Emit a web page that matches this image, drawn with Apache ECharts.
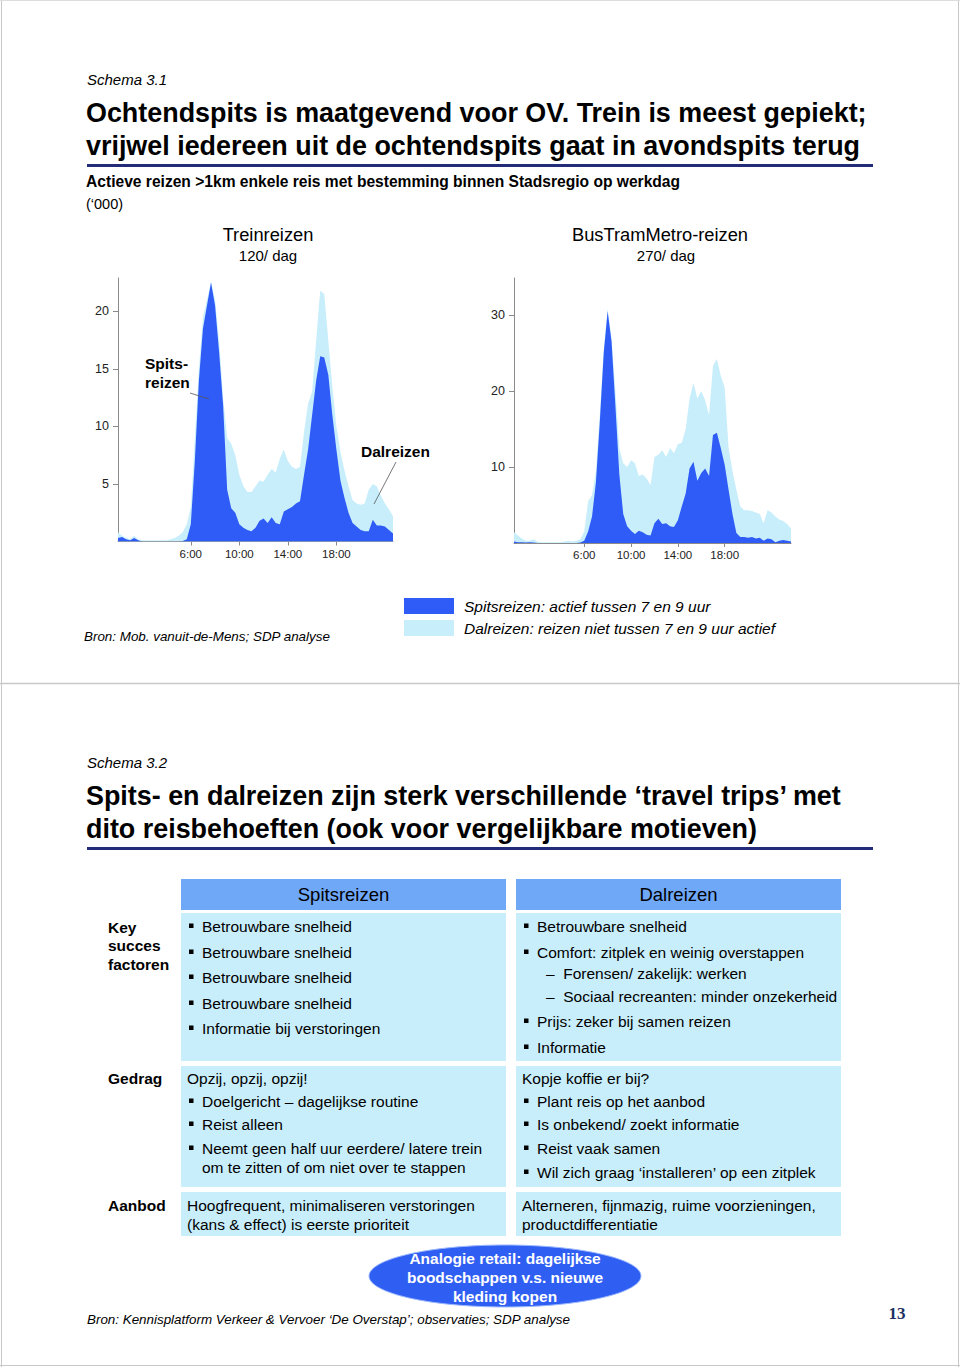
<!DOCTYPE html>
<html>
<head>
<meta charset="utf-8">
<script src="https://cdn.jsdelivr.net/npm/echarts@6/dist/echarts.min.js"></script>
<style>
html,body{margin:0;padding:0;background:#fff;}
#c{width:960px;height:1367px;}
</style>
</head>
<body>
<div id="c"></div>
<script>
// ---------- DATA ----------
const tijden = ['0:00','0:20','0:40','1:00','1:20','1:40','2:00','2:20','2:40','3:00','3:20','3:40',
'4:00','4:20','4:40','5:00','5:20','5:40','6:00','6:20','6:40','7:00','7:20','7:40','8:00','8:20','8:40',
'9:00','9:20','9:40','10:00','10:20','10:40','11:00','11:20','11:40','12:00','12:20','12:40','13:00','13:20','13:40',
'14:00','14:20','14:40','15:00','15:20','15:40','16:00','16:20','16:40','17:00','17:20','17:40','18:00','18:20','18:40',
'19:00','19:20','19:40','20:00','20:20','20:40','21:00','21:20','21:40','22:00','22:20','22:40','23:00','23:20','23:40'];
const tijdTicks = ['6:00','10:00','14:00','18:00'];

// Treinreizen ('000), 0:00 - 22:40
const treinTotaal = [0.8,0.5,0.3,0.2,0.5,0.2,0.1,0.1,0.1,0.1,0.1,0.1,0.1,0.2,0.3,0.5,0.8,1.5,
 3.0,9,15, 19.5,21,22.6, 21,17.5,12.5, 9.0,8.5,7.5, 5.8,4.8,4.3, 4.3,4.8,5.3, 5.2,5.8,6.3, 6.0,7.2,8.0,
 7.0,6.5,6.3, 6.5,9.5,12.0, 13.0,17.5,21.8, 21.5,17.5,13.5, 10.0,7.8,6.2, 4.8,3.6,3.3, 3.2,3.3,4.5,
 5.0,4.8,4.0, 3.3,2.8,2.2];
const treinSpits = [0.3,0.4,0.2,0.1,0.3,0.1,0,0,0,0,0,0,0,0,0,0,0.05,0.2,
 1.5,7,14, 18.5,20.5,22.5, 20.5,16.5,11.8, 4.5,2.9,2.5, 1.5,1.2,1.0, 0.9,1.2,1.8, 2.0,1.6,2.1, 1.6,1.5,2.6,
 2.8,3.0,3.3, 3.5,5.8,8.0, 11.0,14.0,16.1, 16.0,14.5,11.0, 8.0,5.3,3.8, 2.5,1.6,1.3, 1.0,0.9,0.9,
 1.9,1.4,1.4, 1.3,1.0,0.7];

// BusTramMetro-reizen ('000), 0:00 - 23:40
const busTotaal = [1.4,1.0,0.6,0.3,0.3,0.5,0.15,0.1,0.1,0.1,0.1,0.1,0.1,0.2,0.3,0.2,0.3,0.5,
 1.5,5.5,6.3, 9.5,17,25.5, 30.8,27,20, 12.5,10.5,10, 10.9,10.5,8.8, 9.0,8.5,7.6, 11.3,11.6,12.2, 11.3,12.5,11.8,
 13.0,13.2,15.0, 19.0,21.1,19.0, 20.0,18.8,16.8, 23.3,24.2,22.0, 20.5,12.5,9.5, 7.0,4.8,4.3, 4.3,4.2,4.0,
 3.8,2.6,4.3, 4.0,3.5,3.1, 2.9,2.5,1.9];
const busSpits = [0.2,0.1,0.1,0.05,0.1,0.05,0,0,0,0,0,0,0,0,0,0,0,0.05,
 0.3,1.5,3.5, 8,16,25, 30.5,26.5,18, 9,3.8,2.2, 1.6,1.2,1.6, 1.4,1.1,1.0, 2.6,3.2,2.5, 2.6,2.2,2.1,
 3.0,4.8,6.5, 9.8,10.7,8.2, 9.2,9.8,8.8, 14.2,14.5,12.5, 10.3,7.0,3.8, 1.3,0.8,0.8, 0.7,0.8,0.6,
 0.7,0.3,0.6, 0.5,0.1,0.3, 0.4,0.3,0.2];

const treinYTicks = [5,10,15,20];
const busYTicks = [10,20,30];

// ---------- STYLE ----------
const FONT = '"Liberation Sans", Arial, Helvetica, sans-serif';
const DARK = '#2f5cf6';
const LIGHT = '#c8eefb';
const NAVY = '#232c78';
const HEAD = '#70a8f8';
const CELL = '#c9eefb';
const SPITS = 'Spitsreizen: actief tussen 7 en 9 uur';
const DAL = 'Dalreizen: reizen niet tussen 7 en 9 uur actief';

function txt(text, x, y, size, o) {
  o = o || {};
  return {type:'text', x:x, y:y, z:100, silent:true, style:{
    text:text, fill:o.color||'#000', fontSize:size,
    fontWeight:o.bold?'bold':'normal', fontStyle:o.italic?'italic':'normal',
    fontFamily:o.family||FONT, textAlign:o.align||'left', textVerticalAlign:'middle'}};
}
function rect(x,y,w,h,fill){return {type:'rect',z:1,silent:true,shape:{x:x,y:y,width:w,height:h},style:{fill:fill}};}
function line(x1,y1,x2,y2,stroke,w){return {type:'line',z:100,silent:true,shape:{x1:x1,y1:y1,x2:x2,y2:y2},style:{stroke:stroke,lineWidth:w}};}
function bullet(x,y){return {type:'rect',z:100,silent:true,shape:{x:x,y:y-2.5,width:4.5,height:4.5},style:{fill:'#000'}};}

const G = [];
// page borders
G.push(line(1.5,0,1.5,1367,'#c8c8c8',1));
G.push(line(958.5,0,958.5,1367,'#c8c8c8',1));
G.push(line(0,683.5,960,683.5,'#c8c8c8',1.5));
G.push(line(0,1365.5,960,1365.5,'#c8c8c8',1));
G.push(line(0,0.5,960,0.5,'#dddddd',1));

// ---- slide 1 ----
G.push(txt('Schema 3.1', 87, 79, 15, {italic:true}));
G.push(txt('Ochtendspits is maatgevend voor OV. Trein is meest gepiekt;', 86, 113, 26.9, {bold:true}));
G.push(txt('vrijwel iedereen uit de ochtendspits gaat in avondspits terug', 86, 146, 26.9, {bold:true}));
G.push(line(87,165.5,873,165.5,NAVY,3));
G.push(txt('Actieve reizen >1km enkele reis met bestemming binnen Stadsregio op werkdag', 86, 181, 15.6, {bold:true}));
G.push(txt('(‘000)', 86, 204, 14.5));
G.push(txt('Treinreizen', 268, 234, 18.3, {align:'center'}));
G.push(txt('120/ dag', 268, 255, 15, {align:'center'}));
G.push(txt('BusTramMetro-reizen', 660, 234, 18.3, {align:'center'}));
G.push(txt('270/ dag', 666, 255, 15, {align:'center'}));
G.push(txt('Spits-', 145, 363, 15.5, {bold:true}));
G.push(txt('reizen', 145, 382, 15.5, {bold:true}));
G.push(line(190,393,209,399,'#555',0.8));
G.push(txt('Dalreizen', 361, 451, 15.5, {bold:true}));
G.push(line(396,462,374,504,'#555',0.8));
G.push(txt('Bron: Mob. vanuit-de-Mens; SDP analyse', 84, 636, 13.4, {italic:true}));

// ---- slide 2 ----
G.push(txt('Schema 3.2', 87, 762, 15, {italic:true}));
G.push(txt('Spits- en dalreizen zijn sterk verschillende ‘travel trips’ met', 86, 796, 26.9, {bold:true}));
G.push(txt('dito reisbehoeften (ook voor vergelijkbare motieven)', 86, 829, 26.9, {bold:true}));
G.push(line(87,848.5,873,848.5,NAVY,3));

const colX = [181, 516], colW = 325;
G.push(rect(colX[0],879,colW,31,HEAD));
G.push(rect(colX[1],879,colW,31,HEAD));
G.push(txt('Spitsreizen', colX[0]+colW/2, 894, 18.5, {align:'center'}));
G.push(txt('Dalreizen', colX[1]+colW/2, 894, 18.5, {align:'center'}));
const rows = [[913,148],[1066,121],[1192,44]];
rows.forEach(function(r){ G.push(rect(colX[0],r[0],colW,r[1],CELL)); G.push(rect(colX[1],r[0],colW,r[1],CELL)); });

G.push(txt('Key', 108, 927, 15.5, {bold:true}));
G.push(txt('succes', 108, 945, 15.5, {bold:true}));
G.push(txt('factoren', 108, 964, 15.5, {bold:true}));
G.push(txt('Gedrag', 108, 1078, 15.5, {bold:true}));
G.push(txt('Aanbod', 108, 1205, 15.5, {bold:true}));

function bl(col, y, t){ const bx = colX[col]+8; G.push(bullet(bx, y)); G.push(txt(t, bx+13, y, 15.5)); }
function sub(col, y, t){ G.push(txt('–  '+t, colX[col]+30, y, 15.5)); }
function plain(col, y, t, dx){ G.push(txt(t, colX[col]+(dx||6), y, 15.5)); }

['Betrouwbare snelheid','Betrouwbare snelheid','Betrouwbare snelheid','Betrouwbare snelheid','Informatie bij verstoringen']
  .forEach(function(t,i){ bl(0, [926,952,977,1003,1028][i], t); });
bl(1, 926, 'Betrouwbare snelheid');
bl(1, 952, 'Comfort: zitplek en weinig overstappen');
sub(1, 973, 'Forensen/ zakelijk: werken');
sub(1, 996, 'Sociaal recreanten: minder onzekerheid');
bl(1, 1021, 'Prijs: zeker bij samen reizen');
bl(1, 1047, 'Informatie');

plain(0, 1078, 'Opzij, opzij, opzij!');
bl(0, 1101, 'Doelgericht – dagelijkse routine');
bl(0, 1124, 'Reist alleen');
bl(0, 1148, 'Neemt geen half uur eerdere/ latere trein');
plain(0, 1167, 'om te zitten of om niet over te stappen', 21);
plain(1, 1078, 'Kopje koffie er bij?');
bl(1, 1101, 'Plant reis op het aanbod');
bl(1, 1124, 'Is onbekend/ zoekt informatie');
bl(1, 1148, 'Reist vaak samen');
bl(1, 1172, 'Wil zich graag ‘installeren’ op een zitplek');

plain(0, 1205, 'Hoogfrequent, minimaliseren verstoringen');
plain(0, 1224, '(kans & effect) is eerste prioriteit');
plain(1, 1205, 'Alterneren, fijnmazig, ruime voorzieningen,');
plain(1, 1224, 'productdifferentiatie');

G.push({type:'ellipse', z:50, silent:true, shape:{cx:505, cy:1276, rx:136, ry:31}, style:{fill:'#2f5ef2', stroke:'#9db8ff', lineWidth:1}});
G.push(txt('Analogie retail: dagelijkse', 505, 1258, 15.5, {bold:true, color:'#fff', align:'center'}));
G.push(txt('boodschappen v.s. nieuwe', 505, 1277, 15.5, {bold:true, color:'#fff', align:'center'}));
G.push(txt('kleding kopen', 505, 1296, 15.5, {bold:true, color:'#fff', align:'center'}));
G.push(txt('Bron: Kennisplatform Verkeer & Vervoer ‘De Overstap’; observaties; SDP analyse', 87, 1319, 13.4, {italic:true}));
G.push(txt('13', 897, 1313, 17, {bold:true, color:'#1d3163', align:'center', family:'"Liberation Serif", "DejaVu Serif", serif'}));

// ---------- CHART ----------
function xAx(gi, n) {
  return {type:'category', gridIndex:gi, data:tijden.slice(0,n), boundaryGap:false,
    axisLine:{lineStyle:{color:'#8a8a8a', width:1}},
    axisTick:{show:true, length:4, lineStyle:{color:'#8a8a8a'}, interval:function(i,v){return tijdTicks.indexOf(v)>=0;}},
    axisLabel:{interval:function(i,v){return tijdTicks.indexOf(v)>=0;}, fontSize:11.5, color:'#222', fontFamily:FONT, margin:6},
    splitLine:{show:false}};
}
function yAx(gi, max, ticks) {
  return {type:'value', gridIndex:gi, min:0, max:max,
    axisLine:{show:true, lineStyle:{color:'#8a8a8a', width:1}},
    axisTick:{show:true, length:5, lineStyle:{color:'#8a8a8a'}, customValues:ticks},
    axisLabel:{customValues:ticks, fontSize:12.5, color:'#222', fontFamily:FONT, margin:9},
    splitLine:{show:false}};
}
function area(name, gi, data, color) {
  return {type:'line', name:name, xAxisIndex:gi, yAxisIndex:gi, data:data, showSymbol:false, symbol:'none',
    lineStyle:{width:0, color:color}, itemStyle:{color:color}, areaStyle:{color:color, opacity:1},
    silent:true, animation:false};
}

const chart = echarts.init(document.getElementById('c'), null, {renderer:'svg', width:960, height:1367});
chart.setOption({
  animation:false,
  backgroundColor:'#fff',
  grid:[
    {left:118, top:278, width:275, height:263.5},
    {left:514, top:278, width:277, height:265}
  ],
  xAxis:[xAx(0, treinTotaal.length), xAx(1, busTotaal.length)],
  yAxis:[yAx(0, 22.9, treinYTicks), yAx(1, 34.87, busYTicks)],
  legend:{
    data:[{name:SPITS, icon:'rect', itemStyle:{color:DARK}}, {name:DAL, icon:'rect', itemStyle:{color:LIGHT}}],
    orient:'vertical', left:404, top:598, padding:0, itemWidth:50, itemHeight:16, itemGap:6, selectedMode:false,
    textStyle:{fontStyle:'italic', fontSize:15.5, color:'#000', fontFamily:FONT, lineHeight:16, padding:[0,0,0,5]}
  },
  series:[
    area(DAL, 0, treinTotaal, LIGHT),
    area(SPITS, 0, treinSpits, DARK),
    area(DAL, 1, busTotaal, LIGHT),
    area(SPITS, 1, busSpits, DARK)
  ],
  graphic:{elements:G}
});
</script>
</body>
</html>
